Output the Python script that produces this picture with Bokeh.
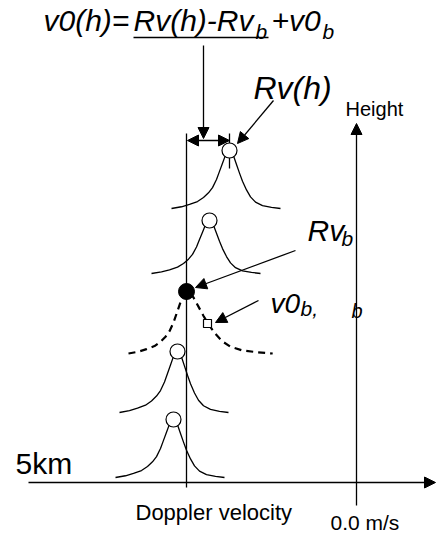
from bokeh.plotting import figure
from bokeh.models import Range1d, Label, Arrow, NormalHead, ColumnDataSource
from bokeh.embed import file_html
from bokeh.resources import INLINE

# ---- data (schematic units: x = Doppler velocity relative to 0.0 m/s axis, y = height above 5 km line)
peak_velocity = [-127, -147, -170, -179, -183]
base_height = [274, 209, 129, 70, 5]
peak_height = [332, 262, 191, 131, 63]
right_stretch = [1.0, 1.0, 1.69, 1.0, 1.0]
is_dashed = [False, False, True, False, False]
is_filled = [False, False, True, False, False]

# shared spectral profile shape (offset in velocity units, relative level 0..1)
profile_offset = [-58, -48, -40, -32, -26, -21, -17, -13, -10, -7, -4, 0,
                  4, 7, 10, 13, 17, 21, 26, 33, 42, 51]
profile_level = [0.00, 0.03, 0.07, 0.12, 0.19, 0.27, 0.36, 0.50, 0.64, 0.78, 0.92, 1.0,
                 0.91, 0.76, 0.61, 0.47, 0.32, 0.20, 0.11, 0.05, 0.02, 0.0]

ref_velocity = -170          # Rv_b reference line
zero_velocity = 0            # 0.0 m/s axis
v0b_velocity = [-149]        # small square marker
v0b_height = [159]

FONT = "Liberation Sans"
TEXT_SHIFT = 10

p = figure(width=436, height=535, output_backend="svg", toolbar_location=None,
           x_range=Range1d(-356, 80), y_range=Range1d(-53, 482),
           min_border=0, min_border_left=0, min_border_right=0,
           min_border_top=0, min_border_bottom=0)
p.axis.visible = False
p.grid.visible = False
p.outline_line_color = None
p.background_fill_color = "white"
p.border_fill_color = "white"

# spectra
for v, b, h, rs, dashed in zip(peak_velocity, base_height, peak_height, right_stretch, is_dashed):
    xs = [v + (o * rs if o > 0 else o) for o in profile_offset]
    ys = [b + lv * (h - b) for lv in profile_level]
    if dashed:
        p.line(xs, ys, line_color="black", line_width=2.2, line_dash="7 5")
    else:
        p.line(xs, ys, line_color="black", line_width=1.3)

# reference vertical line and 0.0 m/s axis
p.segment(x0=[ref_velocity], y0=[-5], x1=[ref_velocity], y1=[349], line_color="black", line_width=1.3)
p.add_layout(Arrow(x_start=zero_velocity, y_start=-23, x_end=zero_velocity, y_end=359,
                   line_color="black", line_width=1.3,
                   end=NormalHead(size=11, fill_color="black", line_color="black")))
# horizontal velocity axis
p.add_layout(Arrow(x_start=-328, y_start=0, x_end=79, y_end=0,
                   line_color="black", line_width=1.3,
                   end=NormalHead(size=11, fill_color="black", line_color="black")))

# tick through top peak
p.segment(x0=[peak_velocity[0]], y0=[314], x1=[peak_velocity[0]], y1=[349], line_color="black", line_width=1.3)

# double arrow between reference and top peak
p.add_layout(Arrow(x_start=ref_velocity + 1, y_start=342, x_end=peak_velocity[0], y_end=342,
                   line_color="black", line_width=1.3,
                   start=NormalHead(size=11, fill_color="black", line_color="black"),
                   end=NormalHead(size=11, fill_color="black", line_color="black")))

# markers
open_src = ColumnDataSource(dict(x=[v for v, f in zip(peak_velocity, is_filled) if not f],
                                 y=[h for h, f in zip(peak_height, is_filled) if not f]))
fill_src = ColumnDataSource(dict(x=[v for v, f in zip(peak_velocity, is_filled) if f],
                                 y=[h for h, f in zip(peak_height, is_filled) if f]))
p.scatter("x", "y", source=open_src, size=15, fill_color="white", line_color="black", line_width=1.2)
p.scatter("x", "y", source=fill_src, size=16, fill_color="black", line_color="black")
p.scatter(v0b_velocity, v0b_height, marker="square", size=8, fill_color="white",
          line_color="black", line_width=1.2)

# annotation arrows
head = dict(size=11, fill_color="black", line_color="black")
p.add_layout(Arrow(x_start=-153, y_start=437, x_end=-153, y_end=344, line_color="black",
                   line_width=1.3, end=NormalHead(**head)))
p.add_layout(Arrow(x_start=-83, y_start=382, x_end=-119, y_end=339, line_color="black",
                   line_width=1.3, end=NormalHead(**head)))
p.add_layout(Arrow(x_start=-61, y_start=232, x_end=-161, y_end=195, line_color="black",
                   line_width=1.3, end=NormalHead(**head)))
p.add_layout(Arrow(x_start=-98, y_start=182, x_end=-141, y_end=160, line_color="black",
                   line_width=1.3, end=NormalHead(**head)))

# formula underline
p.segment(x0=[-223], y0=[445], x1=[-88], y1=[445], line_color="black", line_width=1.6)


def lab(text, x, y, size, italic=True):
    p.add_layout(Label(x=x, y=y + TEXT_SHIFT, text=text, text_font=FONT, text_font_size=f"{size}px",
                       text_font_style="italic" if italic else "normal",
                       text_color="black", text_baseline="alphabetic", text_align="left"))

# formula  v0(h)=Rv(h)-Rv_b+v0_b
lab("v0(h)=", -313, 452, 30)
lab("Rv(h)-Rv", -223, 452, 30)
lab("b", -101, 441, 21)
lab("+v0", -85, 452, 30)
lab("b", -34, 441, 21)

lab("Rv(h)", -103, 385, 32)
lab("Rv", -49, 242, 30)
lab("b", -15, 234, 21)
lab("v0", -86, 169, 28)
lab("b,", -56, 164, 21)
lab("b", -5, 162, 20)

lab("Height", -11, 364, 20, italic=False)
lab("5km", -341, 9, 30, italic=False)
lab("Doppler velocity", -221, -40, 22, italic=False)
lab("0.0 m/s", -26, -50, 21, italic=False)

open("out.html", "w").write(file_html(p, INLINE))
